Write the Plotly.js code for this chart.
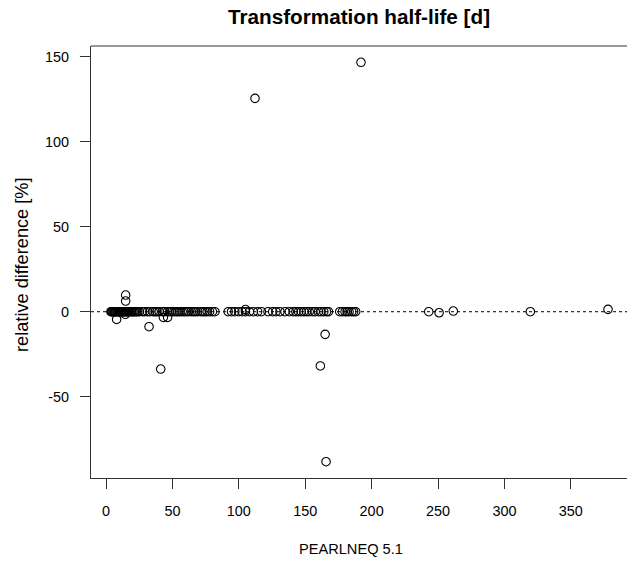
<!DOCTYPE html>
<html>
<head>
<meta charset="utf-8">
<script src="https://cdn.plot.ly/plotly-3.0.1.min.js"></script>
<style>html,body{margin:0;padding:0;background:#fff;}#chart{width:627px;height:563px;}</style>
</head>
<body>
<div id="chart"></div>
<script>
// PEARLNEQ 5.1 transformation half-life [d]
const pearlneq = [
  3.7, 4.2, 4.8, 5.5, 6.0, 6.6, 7.1, 7.5, 8.2, 8.8, 9.3, 10.0, 10.4, 11.0, 11.6, 12.1, 12.5, 13.0,
  13.6, 14.2, 14.8, 15.3, 16.0, 16.5, 17.2, 18.0, 18.8, 19.5, 20.3, 21.2, 22.0, 23.1, 24.0, 25.2,
  27.5, 29.0, 31.2, 33.0, 35.5, 37.0, 38.4, 40.1, 42.5, 44.0, 46.3, 48.0, 49.5, 51.2, 52.8, 54.1,
  55.6, 57.3, 58.8, 60.5, 62.0, 64.2, 65.8, 67.3, 69.0, 71.5, 73.0, 74.6, 76.2, 78.0, 80.1, 82.0,
  92.0, 94.5, 97.0, 99.8, 102.5, 105.0, 108.0, 111.0, 114.2, 117.0,
  122.0, 125.5, 128.0, 131.0, 134.8, 138.0, 141.0, 143.0, 145.0, 147.0, 149.0, 151.0, 153.0,
  155.5, 157.5, 160.0, 162.0, 164.0, 166.0, 167.5, 176.0, 178.0, 180.0, 181.5, 183.0, 185.0,
  186.5, 188.0,
  243.0, 250.8, 261.5, 319.5, 378.0,
  112.2, 192.0, 41.2, 161.4, 165.7, 165.0, 32.4, 14.8, 14.8, 8.0, 14.5, 43.2, 46.4, 105.0
];
// relative difference [%]
const relDiff = [
  0, 0, 0, 0, 0, 0, 0, 0, 0, 0, 0, 0, 0, 0, 0, 0, 0, 0,
  0, 0, 0, 0, 0, 0, 0, 0, 0, 0, 0, 0, 0, 0, 0, 0,
  0, 0, 0, 0, 0, 0, 0, 0, 0, 0, 0, 0, 0, 0, 0, 0,
  0, 0, 0, 0, 0, 0, 0, 0, 0, 0, 0, 0, 0, 0, 0, 0,
  0, 0, 0, 0, 0, 0, 0, 0, 0, 0,
  0, 0, 0, 0, 0, 0, 0, 0, 0, 0, 0, 0, 0,
  0, 0, 0, 0, 0, 0, 0, 0, 0, 0, 0, 0, 0,
  0, 0,
  0, -0.6, 0.4, 0, 1.4,
  125.5, 146.7, -33.7, -31.9, -88.2, -13.3, -8.8, 9.8, 6.3, -4.5, -1.5, -3.3, -3.3, 1.3
];
const xTicks = [0, 50, 100, 150, 200, 250, 300, 350];
const yTicks = [-50, 0, 50, 100, 150];

const font = "'Liberation Sans', Arial, sans-serif";
const trace = {
  x: pearlneq, y: relDiff, type: 'scatter', mode: 'markers',
  marker: {symbol: 'circle-open', size: 8.5, color: '#000', line: {width: 1.1, color: '#000'}},
  hoverinfo: 'none', showlegend: false
};
const layout = {
  width: 627, height: 563,
  margin: {l: 91, r: 0, t: 46, b: 85},
  paper_bgcolor: '#fff', plot_bgcolor: '#fff',
  font: {family: font, color: '#000', size: 14.4},
  title: {text: '<b>Transformation half-life [d]</b>', font: {family: font, size: 20.7, color: '#000'},
          x: 0.5, xref: 'paper', y: 0.97, yref: 'container', xanchor: 'center', yanchor: 'middle'},
  xaxis: {
    range: [-11.3, 392.3], tickvals: xTicks, ticktext: xTicks.map(String),
    ticks: 'outside', ticklen: 10, tickwidth: 1, tickcolor: '#333',
    showline: true, linecolor: '#333', linewidth: 1, mirror: false,
    showgrid: false, zeroline: false, ticklabelstandoff: 10,
    tickfont: {size: 14.4, family: font}
  },
  yaxis: {
    range: [-97.8, 156.3], tickvals: yTicks, ticktext: yTicks.map(String),
    ticks: 'outside', ticklen: 10, tickwidth: 1, tickcolor: '#333',
    showline: true, linecolor: '#333', linewidth: 1, mirror: false,
    showgrid: false, zeroline: false, ticklabelstandoff: 8,
    tickfont: {size: 14.4, family: font}
  },
  annotations: [
    {text: 'PEARLNEQ 5.1', xref: 'paper', yref: 'paper', x: 0.485, y: (563 - 549 - 85) / 432,
     xanchor: 'center', yanchor: 'middle', showarrow: false, font: {size: 14.6, family: font, color: '#000'}},
    {text: 'relative difference [%]', xref: 'paper', yref: 'paper', x: (22 - 91) / 536, y: (478 - 265) / 432,
     xanchor: 'center', yanchor: 'middle', textangle: -90, showarrow: false, font: {size: 18.2, family: font, color: '#000'}}
  ],
  shapes: [
    {type: 'line', xref: 'paper', yref: 'paper', x0: 0, x1: 1, y0: 1, y1: 1, line: {color: '#333', width: 1}},
    {type: 'line', xref: 'paper', yref: 'y', x0: 0, x1: 1, y0: 0, y1: 0, line: {color: '#000', width: 1, dash: 'dot'}, layer: 'below'}
  ]
};
Plotly.newPlot('chart', [trace], layout, {staticPlot: true, displayModeBar: false});
</script>
</body>
</html>
